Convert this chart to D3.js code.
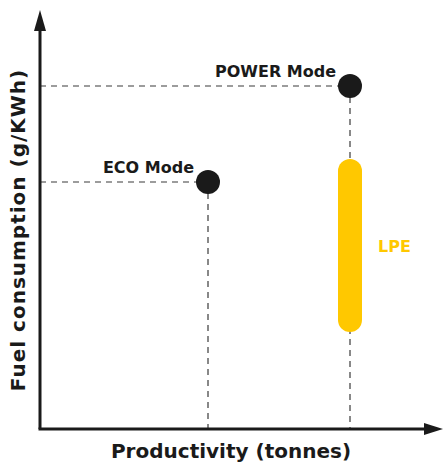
<!DOCTYPE html>
<html>
<head>
<meta charset="utf-8">
<script src="https://cdn.jsdelivr.net/npm/d3@7"></script>
<style>
  body { margin: 0; background: #fff; }
  svg { display: block; }
  text { font-family: "DejaVu Sans", sans-serif; font-weight: 700; }
</style>
</head>
<body>
<div id="chart"></div>
<script>
// modes: productivity / fuel consumption (arbitrary units, 0-100)
var modeNames = ["ECO Mode", "POWER Mode"];
var modeProductivity = [42, 77.5];
var modeFuel = [61.75, 85.75];

// LPE band: same productivity as POWER, fuel range
var lpeName = "LPE";
var lpeProductivity = 77.5;
var lpeFuel = [24.25, 67.5];

var xTitle = "Productivity (tonnes)";
var yTitle = "Fuel consumption (g/KWh)";

var width = 443, height = 463;
var dark = "#1a1a1a", yellow = "#ffc800";

var x = d3.scaleLinear().domain([0, 100]).range([40, 440]);
var y = d3.scaleLinear().domain([0, 100]).range([429, 29]);

var svg = d3.select("#chart").append("svg")
    .attr("width", width)
    .attr("height", height);

// dashed guide lines from each point to the axes
var modes = modeNames.map(function(d, i) {
  return { name: d, px: modeProductivity[i], fy: modeFuel[i] };
});

var guides = svg.append("g")
    .attr("stroke", "#3a3a3a")
    .attr("stroke-width", 1.2)
    .attr("stroke-dasharray", "6,5")
    .attr("fill", "none");

guides.selectAll("line.h")
    .data(modes)
    .enter().append("line")
    .attr("class", "h")
    .attr("x1", x(0))
    .attr("x2", function(d) { return x(d.px); })
    .attr("y1", function(d) { return y(d.fy); })
    .attr("y2", function(d) { return y(d.fy); });

guides.selectAll("line.v")
    .data(modes)
    .enter().append("line")
    .attr("class", "v")
    .attr("x1", function(d) { return x(d.px); })
    .attr("x2", function(d) { return x(d.px); })
    .attr("y1", function(d) { return y(d.fy); })
    .attr("y2", y(0));

// LPE band
var bandW = 24;
svg.append("rect")
    .attr("x", x(lpeProductivity) - bandW / 2)
    .attr("y", y(lpeFuel[1]))
    .attr("width", bandW)
    .attr("height", y(lpeFuel[0]) - y(lpeFuel[1]))
    .attr("rx", bandW / 2)
    .attr("fill", yellow);

svg.append("text")
    .attr("x", x(lpeProductivity) + 28)
    .attr("y", (y(lpeFuel[0]) + y(lpeFuel[1])) / 2 + 6)
    .attr("fill", yellow)
    .attr("font-size", 16)
    .text(lpeName);

// mode points
svg.selectAll("circle")
    .data(modes)
    .enter().append("circle")
    .attr("cx", function(d) { return x(d.px); })
    .attr("cy", function(d) { return y(d.fy); })
    .attr("r", 12)
    .attr("fill", dark);

svg.selectAll("text.mode")
    .data(modes)
    .enter().append("text")
    .attr("class", "mode")
    .attr("x", function(d) { return x(d.px) - 14; })
    .attr("y", function(d) { return y(d.fy) - 9; })
    .attr("text-anchor", "end")
    .attr("fill", dark)
    .attr("font-size", 16)
    .text(function(d) { return d.name; });

// axes with arrowheads
var axes = svg.append("g").attr("fill", dark);

axes.append("line")
    .attr("x1", x(0)).attr("y1", y(0))
    .attr("x2", x(0)).attr("y2", 26)
    .attr("stroke", dark).attr("stroke-width", 3);

axes.append("line")
    .attr("x1", x(0) - 1.5).attr("y1", y(0))
    .attr("x2", 428).attr("y2", y(0))
    .attr("stroke", dark).attr("stroke-width", 3);

axes.append("path")
    .attr("d", "M" + (x(0) - 6) + ",31 L" + x(0) + ",10 L" + (x(0) + 6) + ",31 Z");

axes.append("path")
    .attr("d", "M424," + (y(0) - 6) + " L443," + y(0) + " L424," + (y(0) + 6) + " Z");

// axis titles
svg.append("text")
    .attr("x", 231)
    .attr("y", 458)
    .attr("text-anchor", "middle")
    .attr("fill", dark)
    .attr("font-size", 20)
    .text(xTitle);

svg.append("text")
    .attr("transform", "translate(25,230) rotate(-90)")
    .attr("text-anchor", "middle")
    .attr("fill", dark)
    .attr("font-size", 20)
    .attr("letter-spacing", 1)
    .text(yTitle);
</script>
</body>
</html>
